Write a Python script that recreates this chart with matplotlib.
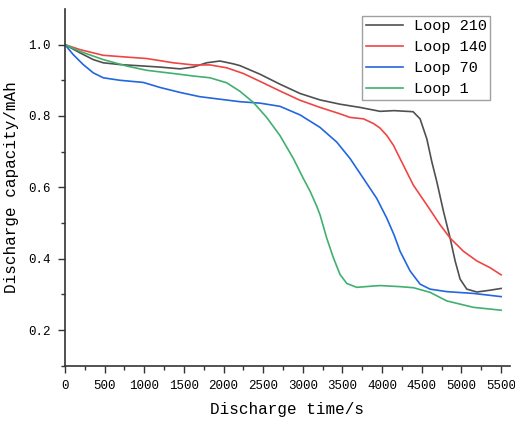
import numpy as np
import matplotlib.pyplot as plt

plt.rcParams['font.family'] = ['Liberation Mono', 'DejaVu Sans Mono']

# values
t_210 = [0, 189, 357, 483, 694, 988, 1198, 1451, 1619, 1787, 1955, 2124, 2208, 2460, 2712, 2965, 3217, 3469, 3721,
         3974, 4150, 4390, 4478, 4563, 4626, 4689, 4773, 4857, 4920, 4983, 5067, 5194, 5361, 5500]
c_210 = [1.0, 0.977, 0.958, 0.949, 0.944, 0.940, 0.937, 0.932, 0.937, 0.949, 0.954, 0.946, 0.941, 0.917, 0.889, 0.863,
         0.845, 0.833, 0.824, 0.813, 0.815, 0.812, 0.792, 0.736, 0.672, 0.616, 0.533, 0.458, 0.394, 0.343, 0.315, 0.307,
         0.312, 0.317]

t_140 = [0, 189, 483, 778, 1030, 1367, 1619, 1829, 2040, 2250, 2460, 2712, 2965, 3217, 3469, 3595, 3764, 3890, 3974,
         4060, 4142, 4268, 4394, 4563, 4731, 4857, 5025, 5194, 5361, 5500]
c_140 = [1.0, 0.986, 0.970, 0.965, 0.961, 0.949, 0.943, 0.943, 0.935, 0.919, 0.897, 0.870, 0.844, 0.824, 0.806, 0.796,
         0.792, 0.779, 0.766, 0.745, 0.718, 0.662, 0.606, 0.551, 0.495, 0.458, 0.421, 0.394, 0.375, 0.355]

t_70 = [0, 105, 231, 357, 483, 694, 988, 1198, 1451, 1703, 1955, 2208, 2460, 2712, 2965, 3217, 3427, 3595, 3764,
        3932, 4058, 4150, 4226, 4352, 4478, 4604, 4815, 5151, 5500]
c_70 = [1.0, 0.972, 0.944, 0.921, 0.907, 0.900, 0.894, 0.880, 0.866, 0.854, 0.847, 0.840, 0.836, 0.827, 0.803, 0.768,
        0.727, 0.681, 0.625, 0.569, 0.514, 0.467, 0.421, 0.366, 0.329, 0.315, 0.308, 0.303, 0.294]

t_1 = [0, 189, 483, 778, 1030, 1367, 1619, 1829, 2040, 2208, 2376, 2544, 2712, 2880, 3006, 3090, 3170, 3217, 3301,
       3385, 3469, 3554, 3680, 3848, 3974, 4226, 4394, 4604, 4815, 5151, 5500]
c_1 = [1.0, 0.981, 0.958, 0.940, 0.928, 0.919, 0.912, 0.907, 0.893, 0.869, 0.838, 0.796, 0.745, 0.681, 0.625, 0.59,
       0.55, 0.523, 0.458, 0.403, 0.356, 0.331, 0.320, 0.323, 0.325, 0.322, 0.319, 0.306, 0.282, 0.264, 0.256]

fig, ax = plt.subplots(figsize=(5.15, 4.23), dpi=100)
fig.subplots_adjust(left=0.126, right=0.990, bottom=0.135, top=0.979)

ax.plot(t_210, c_210, color='#505050', lw=1.2, label='Loop 210')
ax.plot(t_140, c_140, color='#f04545', lw=1.2, label='Loop 140')
ax.plot(t_70, c_70, color='#2266e0', lw=1.2, label='Loop 70')
ax.plot(t_1, c_1, color='#40b070', lw=1.2, label='Loop 1')

ax.set_xlim(0, 5610)
ax.set_ylim(0.1, 1.1)
ax.set_xticks(np.arange(0, 5501, 500))
ax.set_xticks(np.arange(0, 5501, 250), minor=True)
ax.set_yticks([0.2, 0.4, 0.6, 0.8, 1.0])
ax.set_yticks(np.arange(0.1, 1.01, 0.1), minor=True)
ax.yaxis.set_major_formatter(plt.FuncFormatter(lambda v, p: '%.1f' % v))
ax.tick_params(which='major', direction='out', length=5, width=1, pad=5, labelsize=9, colors='#333333',
               labelcolor='black')
ax.tick_params(which='minor', direction='out', length=3, width=1, colors='#333333')
ax.spines['top'].set_visible(False)
ax.spines['right'].set_visible(False)
for s in ['left', 'bottom']:
    ax.spines[s].set_linewidth(1.2)
    ax.spines[s].set_color('#333333')

ax.set_xlabel('Discharge time/s', fontsize=11.5, labelpad=7)
ax.set_ylabel('Discharge capacity/mAh', fontsize=11.5, labelpad=7)

leg = ax.legend(loc='upper right', bbox_to_anchor=(0.963, 0.99), fontsize=11, frameon=True, fancybox=False,
                handlelength=2.4, borderpad=0.25, labelspacing=0.45, handletextpad=0.7, borderaxespad=0.2)
leg.get_frame().set_edgecolor('#888888')
leg.get_frame().set_linewidth(1.0)

plt.savefig('out.png', dpi=100)
